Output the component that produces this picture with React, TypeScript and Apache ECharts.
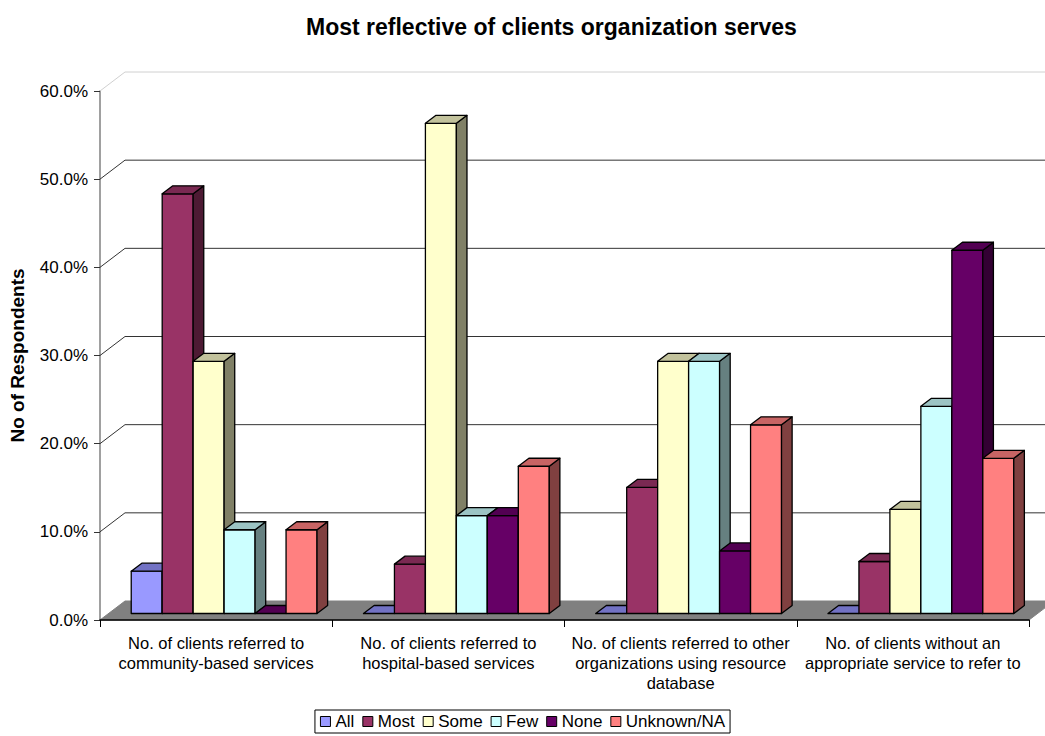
import React, { useEffect, useRef } from "react";
import * as echarts from "echarts";

const categories = [
  "No. of clients referred to\ncommunity-based services",
  "No. of clients referred to\nhospital-based services",
  "No. of clients referred to other\norganizations using resource\ndatabase",
  "No. of clients without an\nappropriate service to refer to",
];
const seriesNames = ["All", "Most", "Some", "Few", "None", "Unknown/NA"];
const allValues = [4.8, 0, 0, 0];
const mostValues = [47.6, 5.6, 14.3, 5.9];
const someValues = [28.6, 55.6, 28.6, 11.8];
const fewValues = [9.5, 11.1, 28.6, 23.5];
const noneValues = [0, 11.1, 7.1, 41.2];
const unknownValues = [9.5, 16.7, 21.4, 17.6];
const yTicks = [0, 10, 20, 30, 40, 50, 60];

const seriesValues = [allValues, mostValues, someValues, fewValues, noneValues, unknownValues];
const frontColors = ["#9999FF", "#993366", "#FFFFCC", "#CCFFFF", "#660066", "#FF8080"];
const topColors = ["#7272C4", "#7A2952", "#C2C29C", "#9CC4C4", "#520052", "#C86464"];
const sideColors = ["#4D4D80", "#4D1A33", "#808066", "#668080", "#330033", "#804040"];

const FONT = "'Liberation Sans', Arial, sans-serif";
// wall depth
const DX = 25;
const DY = -19;
// bar front plane offset
const BX = 8;
const BY = -6.5;
// bar depth
const BDX = 10.6;
const BDY = -8;

export default function App() {
  const ref = useRef<HTMLDivElement>(null);
  useEffect(() => {
    if (!ref.current) return;
    const chart = echarts.init(ref.current, undefined, { renderer: "svg" });

    const frameSeries: any = {
      type: "custom",
      z: 1,
      silent: true,
      data: yTicks.map((v) => [0, v]),
      renderItem: (params: any, api: any) => {
        const v = api.value(1);
        const cs = params.coordSys;
        const y = api.coord([0, v])[1];
        const xl = cs.x;
        const xr = cs.x + cs.width;
        if (v === 0) {
          return {
            type: "polygon",
            shape: { points: [[xl, y], [xr, y], [xr + DX, y + DY], [xl + DX, y + DY]] },
            style: { fill: "#808080", stroke: "#808080", lineWidth: 1 },
          };
        }
        const color = v === 60 ? "#d0d0d0" : "#333333";
        return {
          type: "group",
          children: [
            { type: "line", shape: { x1: xl, y1: y, x2: xl + DX, y2: y + DY }, style: { stroke: color, lineWidth: 1 } },
            { type: "line", shape: { x1: xl + DX, y1: y + DY, x2: xr + DX, y2: y + DY }, style: { stroke: color, lineWidth: 1 } },
          ],
        };
      },
    };

    const barSeries = seriesNames.map((name, si) => ({
      type: "custom",
      name,
      z: 2,
      itemStyle: { color: frontColors[si] },
      data: seriesValues[si].map((v, ci) => [ci, v]),
      renderItem: (params: any, api: any) => {
        const cat = api.value(0);
        const v = api.value(1);
        const base = api.coord([cat, 0]);
        const top = api.coord([cat, v]);
        const band = api.size([1, 0])[0];
        const bw = (band * 0.8) / 6;
        const x0 = base[0] - band * 0.4 + si * bw + BX;
        const x1 = x0 + bw;
        const yb = base[1] + BY;
        const yt = top[1] + BY;
        const st = { stroke: "#000", lineWidth: 1.3, lineJoin: "round" };
        const children: any[] = [];
        if (v > 0) {
          children.push({
            type: "polygon",
            shape: { points: [[x0, yb], [x1, yb], [x1, yt], [x0, yt]] },
            style: { ...st, fill: frontColors[si] },
          });
          children.push({
            type: "polygon",
            shape: { points: [[x1, yb], [x1 + BDX, yb + BDY], [x1 + BDX, yt + BDY], [x1, yt]] },
            style: { ...st, fill: sideColors[si] },
          });
        }
        children.push({
          type: "polygon",
          shape: { points: [[x0, yt], [x1, yt], [x1 + BDX, yt + BDY], [x0 + BDX, yt + BDY]] },
          style: { ...st, fill: topColors[si] },
        });
        return { type: "group", children };
      },
    }));

    chart.setOption({
      animation: false,
      backgroundColor: "#ffffff",
      textStyle: { fontFamily: FONT },
      title: {
        text: "Most reflective of clients organization serves",
        left: 306,
        top: 15,
        padding: 0,
        textStyle: { fontFamily: FONT, fontSize: 23, fontWeight: "bold", color: "#000" },
      },
      legend: {
        data: seriesNames,
        bottom: 3,
        left: "center",
        icon: "rect",
        itemWidth: 10,
        itemHeight: 10,
        itemGap: 8,
        itemTextGap: 4,
        padding: [3, 5],
        borderColor: "#000",
        borderWidth: 1,
        borderRadius: 0,
        itemStyle: { borderColor: "#000", borderWidth: 1 },
        textStyle: { fontFamily: FONT, fontSize: 17, color: "#000" },
      },
      grid: { left: 100, top: 91, width: 929, height: 529, containLabel: false },
      xAxis: {
        type: "category",
        data: categories,
        z: 5,
        axisLine: { show: true, lineStyle: { color: "#000", width: 1.5 } },
        axisTick: { show: true, length: 7, lineStyle: { color: "#000" } },
        axisLabel: {
          interval: 0,
          margin: 13,
          fontFamily: FONT,
          fontSize: 16.5,
          lineHeight: 20,
          color: "#000",
        },
        splitLine: { show: false },
      },
      yAxis: {
        type: "value",
        min: 0,
        max: 60,
        interval: 10,
        name: "No of Respondents",
        nameLocation: "middle",
        nameRotate: 90,
        nameGap: 73,
        nameTextStyle: { fontFamily: FONT, fontSize: 19, fontWeight: "bold", color: "#000" },
        axisLine: { show: true, lineStyle: { color: "#808080", width: 1.5 } },
        axisTick: { show: true, length: 6, lineStyle: { color: "#333" } },
        axisLabel: {
          margin: 12,
          fontFamily: FONT,
          fontSize: 17,
          color: "#000",
          formatter: (v: number) => v.toFixed(1) + "%",
        },
        splitLine: { show: false },
      },
      series: [frameSeries, ...barSeries],
    });
    return () => chart.dispose();
  }, []);
  return (
    <div
      ref={ref}
      style={{ position: "fixed", left: 0, top: 0, width: 1045, height: 736 }}
    />
  );
}
